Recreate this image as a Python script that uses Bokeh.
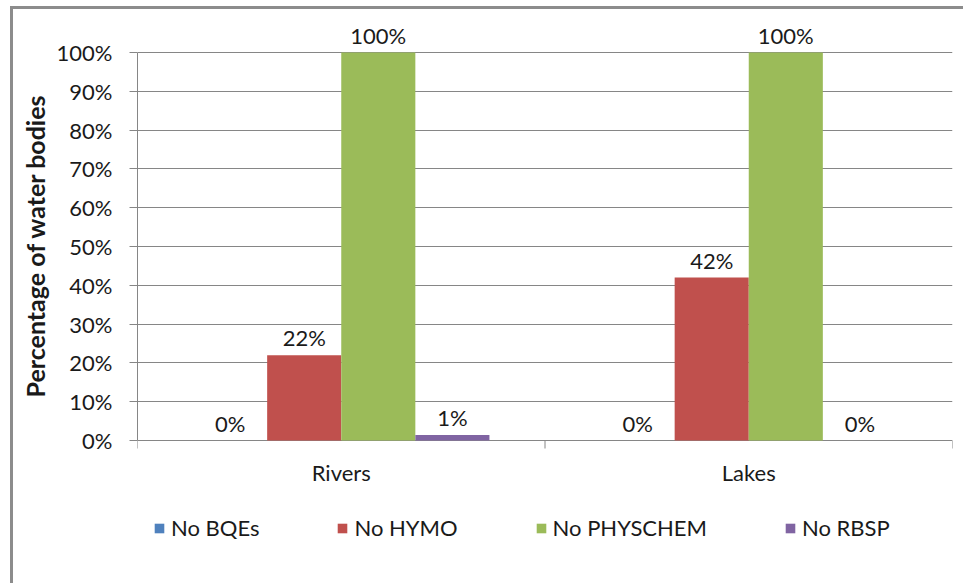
from bokeh.plotting import figure
from bokeh.models import (ColumnDataSource, FixedTicker, Range1d, Label, Legend,
                          LegendItem, PrintfTickFormatter, Title)
from bokeh.embed import file_html
from bokeh.resources import INLINE

# ---------------- data ----------------
categories = ["Rivers", "Lakes"]
series_names = ["No BQEs", "No HYMO", "No PHYSCHEM", "No RBSP"]
no_bqes = [0.0, 0.0]
no_hymo = [22.0, 42.0]
no_physchem = [100.0, 100.0]
no_rbsp = [1.4, 0.0]
y_tick_values = [0, 10, 20, 30, 40, 50, 60, 70, 80, 90, 100]
y_axis_title = "Percentage of water bodies"

# ---------------- style / layout (pixels) ----------------
series_values = [no_bqes, no_hymo, no_physchem, no_rbsp]
series_colors = ["#4F81BD", "#C0504D", "#9BBB59", "#8064A2"]
FONT = "Lato"
GRAY = "#868686"
TXT = "#1a1a1a"
FS = "22px"

CANVAS_W, CANVAS_H = 950, 574
LEFT, RIGHT_PAD, TOP = 121, 14, 5
FRAME_W = CANVAS_W - LEFT - RIGHT_PAD
FRAME_H = CANVAS_H - TOP
ZERO_PX = 426          # distance from frame top to the 0% line
PX_PER_UNIT = 3.88     # pixels per percentage point
TICK_PX = 8
TITLE_LEN_PX = 302     # approx. rendered length of the y title

y_top = ZERO_PX / PX_PER_UNIT
y_bottom = y_top - FRAME_H / PX_PER_UNIT
tick_len = TICK_PX / PX_PER_UNIT
# y title centred on the 0..100% span: distance of its start from the frame bottom
title_offset = FRAME_H - (ZERO_PX - 50 * PX_PER_UNIT) - TITLE_LEN_PX / 2.0

n_series = len(series_names)
gap_ratio = 1.5
bar_w = 1.0 / (n_series + gap_ratio)
centers = [i + 0.5 for i in range(len(categories))]
boundaries = [float(i) for i in range(len(categories) + 1)]

p = figure(frame_width=FRAME_W, frame_height=FRAME_H,
           x_range=Range1d(0, len(categories)), y_range=Range1d(y_bottom, y_top),
           output_backend="svg", toolbar_location=None,
           min_border_left=LEFT, min_border_top=TOP, min_border_right=RIGHT_PAD,
           min_border_bottom=0)
p.outline_line_color = None
p.background_fill_color = "white"
p.border_fill_color = "white"
p.styles = {"margin-left": "10px", "margin-top": "6px",
            "border-left": "3px solid #8c8c8c", "border-top": "3px solid #8c8c8c"}

items = []
for k, (name, vals, col) in enumerate(zip(series_names, series_values, series_colors)):
    offset = (k - (n_series - 1) / 2.0) * bar_w
    xs = [c + offset for c in centers]
    src = ColumnDataSource(dict(x=xs, top=vals))
    r = p.vbar(x="x", top="top", bottom=0, width=bar_w, source=src,
               fill_color=col, line_color=None)
    items.append(LegendItem(label=name, renderers=[r]))
    for xv, v in zip(xs, vals):
        p.add_layout(Label(x=xv, y=v, text="%d%%" % round(v), text_align="center",
                           text_baseline="bottom", y_offset=4, text_font=FONT,
                           text_font_size=FS, text_color=TXT))

# grid (the 0% grid line doubles as the category axis line)
p.xgrid.grid_line_color = None
p.ygrid.grid_line_color = GRAY
p.ygrid.grid_line_width = 1
p.ygrid.ticker = FixedTicker(ticks=y_tick_values)

# category axis: tick marks between groups and group names
p.segment(x0=boundaries, y0=[0] * len(boundaries), x1=boundaries,
          y1=[-tick_len] * len(boundaries), line_color=GRAY, line_width=1)
for c, cat in zip(centers, categories):
    p.add_layout(Label(x=c, y=0, text=cat, text_align="center",
                       text_baseline="middle", y_offset=-32, text_font=FONT,
                       text_font_size=FS, text_color=TXT))
p.xaxis.visible = False

# y axis
ya = p.yaxis[0]
ya.ticker = FixedTicker(ticks=y_tick_values, minor_ticks=[])
ya.bounds = (0, 100)
ya.formatter = PrintfTickFormatter(format="%d%%")
ya.axis_line_color = GRAY
ya.major_tick_line_color = GRAY
ya.major_tick_out = TICK_PX
ya.major_tick_in = 0
ya.minor_tick_line_color = None
ya.major_label_standoff = 17
ya.major_label_text_font = FONT
ya.major_label_text_font_size = FS
ya.major_label_text_color = TXT

ytitle = Title(text=y_axis_title, align="left", offset=title_offset,
               text_font=FONT, text_font_style="bold", text_font_size="25px",
               text_color=TXT, standoff=8)
p.add_layout(ytitle, "left")

legend = Legend(items=items, orientation="horizontal", location=(16, 42),
                glyph_width=12, glyph_height=12, label_standoff=6, spacing=77,
                border_line_color=None, background_fill_alpha=0,
                label_text_font=FONT, label_text_font_size=FS,
                label_text_color=TXT, padding=0, margin=0)
p.add_layout(legend, "center")

open("out.html", "w").write(file_html(p, INLINE))
